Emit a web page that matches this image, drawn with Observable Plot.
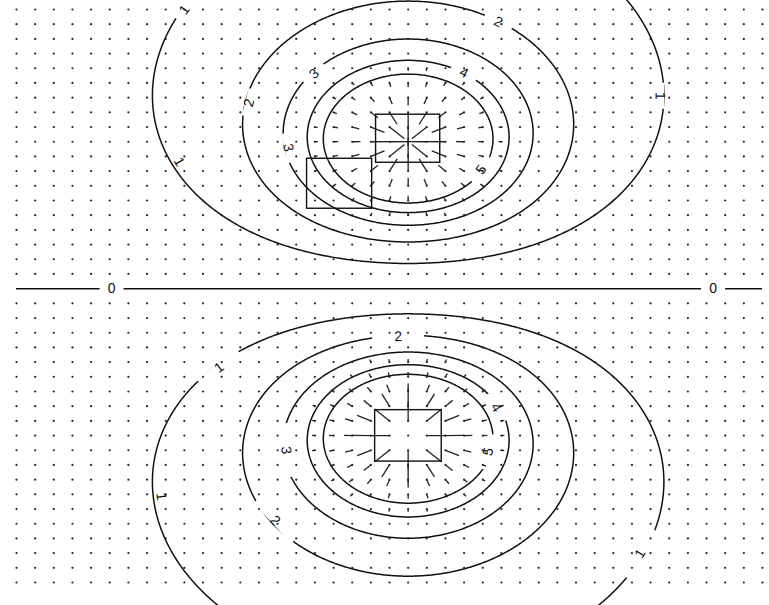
<!DOCTYPE html>
<html><head><meta charset="utf-8">
<script src="https://cdn.jsdelivr.net/npm/d3@7"></script>
<script src="https://cdn.jsdelivr.net/npm/@observablehq/plot@0.6"></script>
<style>html,body{margin:0;padding:0;background:#fff;}#chart svg{display:block;}</style>
</head><body><div id="chart"></div>
<script>
// Grid of field sample points (grid units; y = 0 is the conducting plane)
const gridCols = [-21,-20,-19,-18,-17,-16,-15,-14,-13,-12,-11,-10,-9,-8,-7,-6,-5,-4,-3,-2,-1,0,1,2,3,4,5,6,7,8,9,10,11,12,13,14,15,16,17,18,19];
const gridRows = [19,18,17,16,15,14,13,12,11,10,9,8,7,6,5,4,3,2,1,-1,-2,-3,-4,-5,-6,-7,-8,-9,-10,-11,-12,-13,-14,-15,-16,-17,-18,-19,-20];

// Point charge and its image
const chargeX = [0, 0];
const chargeY = [10, -10];
const chargeQ = [-1, 1];
const chargeK = 28.3;
const aspectX = 0.976;

// Equipotential levels
const contourLevels = [1, 2, 3, 4, 5];

// Contour labels
const labelText = ["1","2","2","3","4","3","5","1","1","2","1","4","3","5","1","2","1"];
const labelX = [-12.0, 4.83, -8.53, -5.04, 3.0, -6.43, 3.91, -12.28, 13.51, -0.54, -10.13, 4.72, -6.54, 4.29, -13.24, -7.13, 12.44];
const labelY = [18.98, 18.16, 12.65, 14.63, 14.7, 9.59, 8.1, 8.64, 13.13, -3.27, -5.37, -8.1, -11.0, -11.1, -14.15, -15.78, -18.03];
const labelGap = [24, 30, 28, 27, 28, 30, 30, 26, 26, 52, 50, 32, 54, 36, 52, 55, 55];

// Zero-potential line labels
const zeroText = ["0", "0"];
const zeroX = [-15.9, 16.35];
const zeroGap = [24, 24];

// Boxes
const boxX1 = [-1.72, -5.42, -1.77];
const boxX2 = [1.72, -1.93, 1.8];
const boxY1 = [8.57, 5.44, -8.27];
const boxY2 = [11.84, 8.84, -11.77];

// ---- layout
const W = 769, H = 605;
const xRange = [16, 762], yRange = [9, 582];
const xDom = [gridCols[0], gridCols[gridCols.length - 1]];
const yDom = [gridRows[0], gridRows[gridRows.length - 1]];
const pxX = (xRange[1] - xRange[0]) / (xDom[1] - xDom[0]);
const pxY = (yRange[1] - yRange[0]) / (yDom[0] - yDom[1]);

function phi(x, y) {
  let s = 0;
  for (let i = 0; i < chargeX.length; i++) {
    const dx = (x - chargeX[i]) * aspectX, dy = y - chargeY[i];
    s += chargeQ[i] / Math.sqrt(dx * dx + dy * dy + 1e-12);
  }
  return chargeK * s;
}
function field(x, y) {
  let ex = 0, ey = 0;
  for (let i = 0; i < chargeX.length; i++) {
    const dx = (x - chargeX[i]) * aspectX, dy = y - chargeY[i];
    const r2 = dx * dx + dy * dy;
    if (r2 < 1e-9) return null;
    const r3 = r2 * Math.sqrt(r2);
    ex += chargeQ[i] * dx / r3; ey += chargeQ[i] * dy / r3;
  }
  return [chargeK * ex, chargeK * ey];
}

// ---- contours via d3.contours on a sampled grid (extends past the frame)
const sx0 = -24, sx1 = 22, sy0 = 22, sy1 = -24, step = 0.08;
const n = Math.round((sx1 - sx0) / step) + 1, m = Math.round((sy0 - sy1) / step) + 1;
const vals = new Float64Array(n * m);
for (let j = 0; j < m; j++) for (let i = 0; i < n; i++) {
  vals[i + j * n] = Math.min(Math.abs(phi(sx0 + i * step, sy0 - j * step)), 60);
}
const conts = d3.contours().size([n, m]).thresholds(contourLevels)(vals);
const contourPts = [];
let rid = 0;
conts.forEach(c => c.coordinates.forEach(poly => poly.forEach(ring => {
  rid++;
  ring.forEach(([i, j]) => contourPts.push({x: sx0 + (i - 0.5) * step, y: sy0 - (j - 0.5) * step, id: rid}));
})));

// ---- labels with tangent direction
function tangentAt(x, y) {
  const h = 0.01;
  const gX = (Math.abs(phi(x + h, y)) - Math.abs(phi(x - h, y))) / (2 * h) / pxX;
  const gY = -(Math.abs(phi(x, y + h)) - Math.abs(phi(x, y - h))) / (2 * h) / pxY;
  let tX = -gY, tY = gX;
  const L = Math.hypot(tX, tY) || 1;
  return [tX / L, tY / L];
}
function norm(a) { while (a > 90) a -= 180; while (a <= -90) a += 180; return a; }
const labels = labelText.map((t, k) => {
  const [tX, tY] = tangentAt(labelX[k], labelY[k]);
  const g = labelGap[k] / 2;
  return {text: t, x: labelX[k], y: labelY[k], rot: norm(Math.atan2(tY, tX) * 180 / Math.PI),
    gx1: labelX[k] - g * tX / pxX, gy1: labelY[k] + g * tY / pxY,
    gx2: labelX[k] + g * tX / pxX, gy2: labelY[k] - g * tY / pxY};
});
const zeros = zeroText.map((t, k) => ({text: t, x: zeroX[k], y: 0,
  gx1: zeroX[k] - zeroGap[k] / 2 / pxX, gx2: zeroX[k] + zeroGap[k] / 2 / pxX}));

// ---- vector field
const grid = [];
gridRows.forEach(y => gridCols.forEach(x => grid.push({x, y})));
const vecs = [];
grid.forEach(p => {
  const E = field(p.x, p.y);
  if (!E) return;
  const mag = Math.hypot(E[0], E[1]);
  const L = Math.min(2.5 * mag, 19);
  if (L < 2.5) return;
  let vX = E[0] * pxX / aspectX, vY = -E[1] * pxY;
  const vl = Math.hypot(vX, vY);
  vX /= vl; vY /= vl;
  vecs.push({x1: p.x, y1: p.y, x2: p.x + L * vX / pxX, y2: p.y - L * vY / pxY});
});

const boxes = boxX1.map((v, k) => ({x1: v, x2: boxX2[k], y1: boxY1[k], y2: boxY2[k]}));

const chart = Plot.plot({
  width: W, height: H,
  x: {domain: xDom, range: xRange, axis: null},
  y: {domain: yDom, range: yRange, axis: null},
  style: {background: "white"},
  marks: [
    Plot.line(contourPts, {x: "x", y: "y", z: "id", stroke: "#111", strokeWidth: 1.5}),
    Plot.ruleY([0], {x1: xDom[0], x2: xDom[1], stroke: "#111", strokeWidth: 1.5}),
    Plot.link(labels, {x1: "gx1", y1: "gy1", x2: "gx2", y2: "gy2", stroke: "white", strokeWidth: 8}),
    Plot.link(zeros, {x1: "gx1", y1: "y", x2: "gx2", y2: "y", stroke: "white", strokeWidth: 8}),
    Plot.link(vecs, {x1: "x1", y1: "y1", x2: "x2", y2: "y2", stroke: "#222", strokeWidth: 1.3}),
    Plot.dot(grid, {x: "x", y: "y", r: 1.1, fill: "#222", stroke: null}),
    Plot.rect(boxes, {x1: "x1", x2: "x2", y1: "y1", y2: "y2", fill: "none", stroke: "#111", strokeWidth: 1.4}),
    Plot.text(labels, {x: "x", y: "y", text: "text", rotate: "rot", fontSize: 14, fill: "#111", fontFamily: "Liberation Sans, Arial, sans-serif"}),
    Plot.text(zeros, {x: "x", y: "y", text: "text", fontSize: 14, fill: "#111", fontFamily: "Liberation Sans, Arial, sans-serif"})
  ]
});
document.getElementById("chart").appendChild(chart);
</script>
</body></html>
